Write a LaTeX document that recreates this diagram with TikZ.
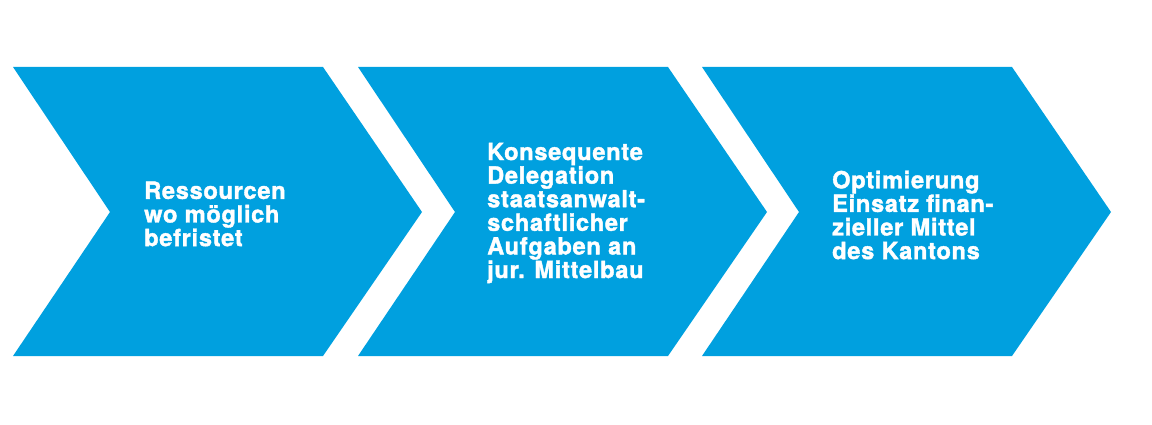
\documentclass[tikz,border=0pt]{standalone}
\usepackage{fontspec}
\newfontfamily\chevfont[LetterSpace=3,BoldFeatures={FakeBold=1.6}]{TeX Gyre Heros}
\definecolor{chevblue}{RGB}{0,160,223}

\begin{document}
\begin{tikzpicture}[x=1pt,y=-1pt]
		\tikzstyle{chevron}=[fill=chevblue,draw=none]
		\tikzstyle{chevtext}=[text=white,anchor=west,align=left,inner sep=0pt,font=\chevfont\bfseries\fontsize{23.6}{23.6}\selectfont]

		\useasboundingbox (0,0) rectangle (1152,425);

		\foreach \x in {13,358,702} { \fill[chevron] (\x,67) -- ({\x+310},67) -- ({\x+409},212) -- ({\x+310},356) -- (\x,356) -- ({\x+97},212) -- cycle;}

		\node[chevtext] (res) at (144,214) {Ressourcen\\wo möglich\\befristet};
		\node[chevtext] (del) at (487,213) {Konsequente\\Delegation\\staatsanwalt-\\schaftlicher\\Aufgaben an\\jur. Mittelbau};
		\node[chevtext] (opt) at (832,215) {Optimierung\\Einsatz finan-\\zieller Mittel\\des Kantons};
	\end{tikzpicture}
\end{document}
